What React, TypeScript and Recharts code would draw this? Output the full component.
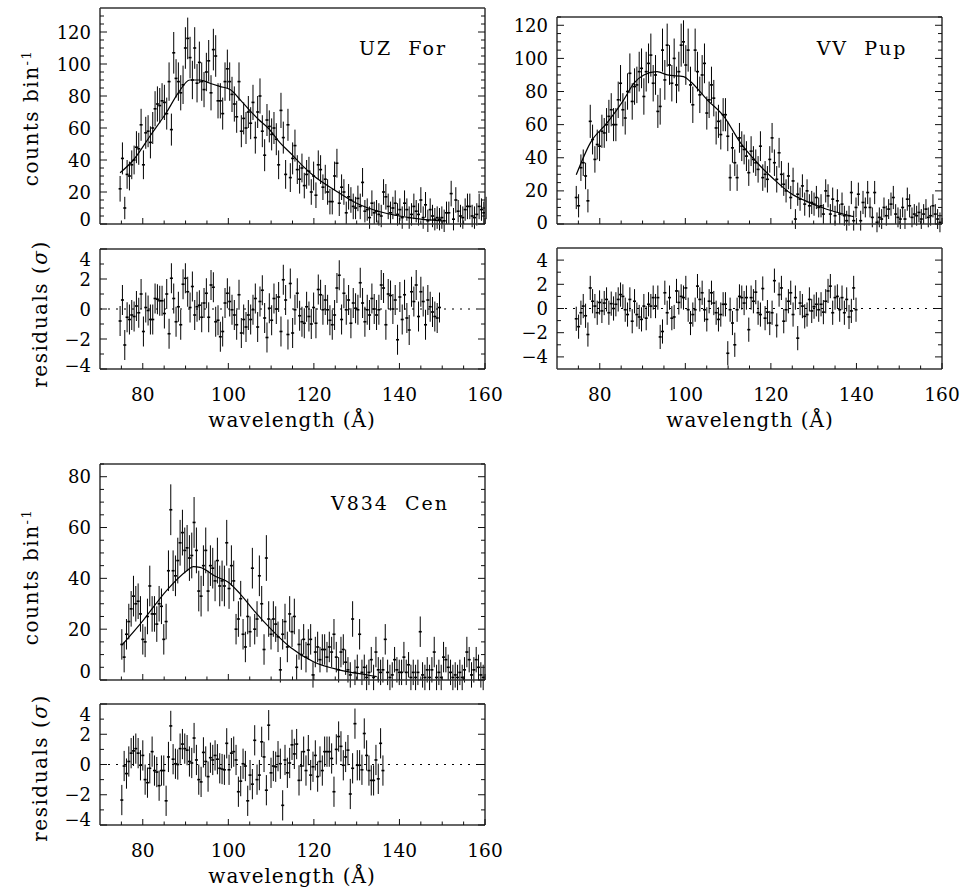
import React from "react";
import { ComposedChart, Scatter, Line, XAxis, YAxis, ErrorBar, ReferenceLine } from "recharts";

// bin width of the spectra (Å)
const BIN = 0.545;

// ---- UZ For ----
const UZ_START = 74.7;
const UZ_COUNTS = [
  22, 41, 10, 31, 30, 37, 40, 48, 47, 62, 37, 57, 58, 51, 60, 72, 75, 74, 77, 76,
  69, 89, 59, 107, 91, 89, 82, 87, 110, 116, 104, 90, 110, 88, 101, 89, 84, 95, 102, 82,
  109, 105, 77, 77, 69, 89, 97, 89,
  81, 75, 67, 89, 58, 66, 60, 70, 63, 76, 54, 70, 80, 58, 43, 65, 61, 56, 60, 53,
  37, 71, 54, 31, 62, 29, 41, 49, 34, 28, 35, 24, 31, 33, 20, 30, 18, 37, 34, 23,
  28, 20, 14, 14, 30, 38, 13, 23, 20, 7, 17, 15, 11,
  10, 16, 11, 26, 8, 9, 4, 13, 7, 8, 6, 5, 20, 17, 11, 7, 10, 13, 6, 9,
  4, 13, 9, 4, 6, 11, 8, 6, 15, 4, 12, 2, 9, 5, 3, 4, 3, 4, 2, 7,
  7, 19, 3, 15, 8, 5, 4, 9, 11, 11, 5, 4, 6, 11, 9, 7, 10,
];
const UZ_ERR = [
  8, 10, 7, 9, 9, 9, 9, 10, 10, 10, 9, 10, 10, 10, 10, 11, 11, 11, 11, 11,
  10, 12, 10, 13, 12, 12, 11, 12, 13, 13, 13, 12, 13, 12, 13, 12, 11, 12, 13, 11,
  13, 13, 11, 11, 10, 12, 12, 12,
  11, 11, 10, 12, 10, 10, 10, 10, 10, 11, 10, 10, 11, 10, 10, 10, 10, 10, 10, 10,
  9, 11, 10, 9, 10, 9, 10, 10, 9, 9, 9, 8, 9, 9, 8, 9, 8, 9, 9, 8,
  9, 8, 8, 8, 9, 9, 8, 8, 8, 7, 8, 8, 8,
  7, 8, 8, 9, 7, 7, 7, 8, 7, 7, 7, 7, 8, 8, 8, 7, 7, 8, 7, 7,
  7, 8, 7, 7, 7, 8, 7, 7, 8, 7, 8, 7, 7, 7, 7, 7, 7, 7, 7, 7,
  7, 8, 7, 8, 7, 7, 7, 7, 8, 8, 7, 7, 7, 8, 7, 7, 7,
];
const UZ_RESID = [
  -0.8, 0.6, -2.4, -0.55, -0.7, -0.4, -0.5, 0.2, -0.25, 1.0, -1.5, 0.1, -0.1, -0.7, -0.7, 0.7, 0.65, 0.55, 0.55, -0.3,
  1.0, -1.65, 2.05, 0.7, -0.85, 0.15, -1.05, 1.65, 2.05, 1.15, 0.1, 1.5, -0.4, 0.15, 0.25, -0.55, 0.4, 1.05, -0.55, 1.6,
  1.45, -0.85, -0.75, -1.85, -1.5, 0.4, 1.05, 0.5, -0.05, -0.4, -1.05, 0.95, -1.6, -0.7, -1.2, -0.4, -0.7, -0.05, 0.7, -1.2,
  0.5, 1.25, -0.6, -1.9, 0.05, -0.75, 0.7, 0, 0.8, -1.5, 1.95, 0.6, -1.7, 1.7, -1.6, -0.05, 1.05, -0.45, -0.85, -0.95,
  0.15, -0.5, -1.0, 0.1, -0.95, 1.3, 0.95, -0.05, 0.6, -0.05, -0.75, -1.05, -0.4, 1.4, 2.25, -0.7, 1.05, -0.05, 0.6, -0.95,
  0.4, 0.05, -0.05, 1.75, 0.4, -0.85, -0.05, -0.4, 0.7, 0, -0.4, -0.05, 1.6, 1.4, -1.05, 1.0, 0.9, 0, 0.6, -2.05,
  0.8, -0.7, 0.95, -0.6, -1.4, 1.15, 0.5, 1.6, -0.5, 1.15, 0.5, -1.05, 0.6, 0.15, -0.2, -0.5, -0.6, 0.1,
];
const UZ_MODEL_X = [74.7, 77.8, 81.7, 85.6, 88.3, 91, 93.4, 95.7, 98, 100.4, 103, 105, 107, 109.3, 112, 115, 117.5, 120, 125, 130, 135, 140, 145, 150];
const UZ_MODEL_Y = [32, 40, 55, 70, 82, 90, 90, 88, 86, 84, 77, 71, 65.5, 60, 51, 43, 36, 30, 21, 13, 8, 5, 3, 2];

// ---- VV Pup ----
const VV_START = 74.5;
const VV_COUNTS = [
  16, 11, 34, 37, 29, 14, 62, 51, 39, 48, 47, 56, 55, 60, 65, 69, 60, 60, 75, 85,
  69, 64, 80, 91, 74, 83, 84, 92, 94, 77, 92, 97, 102, 85, 90, 68, 71, 105, 87, 108,
  96, 85, 100, 84, 92, 108, 110, 96, 105, 84, 72, 105, 92, 78, 90, 97, 67, 75, 84, 76,
  58, 62, 54, 66, 66, 53, 28, 46, 37, 28, 52, 47, 45, 41, 31, 44, 39, 37, 33, 47,
  28, 30, 27, 39, 52, 37, 27, 43, 30, 24, 20, 29, 16, 26, 3, 18, 15, 23, 12, 20,
  11, 13, 12, 16, 10, 11, 6, 20, 17, 6, 15, 5, 14, 6, 12, 5, 2, 5, 19, 2,
  10, 18, 2, 13, 10, 19, 10, 4, 19, 1, 4, 3, 10, 5, 9, 12, 16, 6, 4, 3,
  10, 3, 15, 11, 4, 6, 5, 7, 3, 6, 9, 4, 5, 11, 6, 3, 1,
];
const VV_ERR = [
  7, 7, 8, 8, 8, 7, 10, 9, 8, 9, 9, 10, 9, 10, 10, 10, 10, 10, 11, 11,
  10, 10, 11, 12, 11, 11, 11, 12, 12, 11, 12, 12, 13, 11, 12, 10, 11, 13, 12, 13,
  12, 11, 12, 11, 12, 13, 13, 12, 13, 11, 11, 13, 12, 11, 12, 12, 10, 11, 11, 11,
  10, 10, 9, 10, 10, 9, 8, 9, 8, 8, 9, 9, 9, 9, 8, 9, 8, 8, 8, 9,
  8, 8, 8, 8, 9, 8, 8, 9, 8, 7, 7, 8, 7, 8, 6, 7, 7, 7, 7, 7,
  7, 7, 7, 7, 6, 7, 6, 7, 7, 6, 7, 6, 7, 6, 7, 6, 6, 6, 7, 6,
  6, 7, 6, 7, 6, 7, 6, 6, 7, 6, 6, 6, 6, 6, 6, 7, 7, 6, 6, 6,
  6, 6, 7, 7, 6, 6, 6, 6, 6, 6, 6, 6, 6, 7, 6, 6, 6,
];
const VV_RESID = [
  -0.85, -1.5, -0.35, 0.2, -0.6, -2.15, 1.7, 0.6, 0.2, -0.35, 0.5, -0.2, 0.45, 0.75, -0.35, 0.4, 0, 0.35, 0.75, 1.15,
  1.0, -0.1, -0.5, 0.75, -1.05, 0.6, -0.5, -0.7, -0.9, 0.2, -0.8, 0.35, 0.2, 0.9, 0.2, 0.9, -2.35, -1.9, 1.3, -0.35,
  0.9, -0.8, -0.7, 1.45, 0.5, 1.0, 0.9, 1.7, -0.1, -1.2, -0.5, -0.1, 1.85, 0.75, 1.3, -0.1, -0.9, 0.6, 1.3, 0.45,
  -0.35, -0.9, -0.5, 0.35, 0.35, -3.7, -0.1, -1.2, -3.0, -0.1, 1.0, 0.9, 0.45, 0.9, -1.75, 0.9, 0.6, 1.35, -0.35, -0.5,
  1.65, -0.8, -0.3, -1.2, -0.35, 2.3, -1.4, 1.15, 1.7, -1.05, -0.1, 0.6, 1.3, -0.5, 0.9, -2.45, 0.45, 0.2, -0.65, -0.5,
  0.75, -0.2, 0.15, 0.35, -0.1, 0.35, -0.3, 0.6, 1.45, 1.85, -0.35, 0.9, 1.0, -0.1, 0.9, -0.35, 0.75, -0.7, -0.2, 1.7,
  -0.1,
];
const VV_MODEL_X = [74.5, 77.8, 81.7, 85.6, 88, 90.3, 93.4, 95.8, 99.6, 101.2, 105.1, 109, 112.9, 116.8, 120.7, 124.6, 128.5, 132.4, 136.3, 139.4];
const VV_MODEL_Y = [29.7, 49, 61, 75, 85, 90, 92, 90, 89, 86, 75, 65, 49, 37, 27, 18.6, 13.5, 9.5, 6.5, 4.4];

// ---- V834 Cen ----
const CEN_START = 75.1;
const CEN_COUNTS = [
  14, 9, 18, 23, 28, 33, 30, 31, 26, 16, 15, 25, 37, 26, 26, 22, 30, 29, 16, 23,
  43, 67, 43, 41, 47, 54, 58, 51, 52, 48, 49, 62, 51, 35, 33, 45, 51, 35, 45, 44,
  39, 47, 37, 39, 37, 54, 36, 45, 39, 20, 24, 32, 18, 13, 25, 19, 44, 20, 24, 41,
  30, 12, 48, 24, 18, 24, 22, 17, 4, 18, 23, 13, 26, 19, 25, 5, 14, 10, 16, 9,
  14, 16, 2, 11, 13, 8, 12, 12, 9, 13, 11, 18, 9, 4, 11, 12, 7, 4, 2, 24,
  3, 5, 18, 3, 5, 1, 3, 8, 1, 11, 4, 3, 4, 16, 3, 1, 2, 8, 4, 3,
  3, 9, 3, 6, 1, 3, 1, 3, 19, 2, 1, 4, 1, 4, 11, 1, 3, 1, 9, 8,
  5, 3, 1, 2, 1, 3, 1, 4, 11, 8, 2, 4, 8, 5, 2, 1,
];
const CEN_ERR = [
  6, 6, 6, 7, 7, 8, 7, 7, 7, 6, 6, 7, 8, 7, 7, 7, 7, 7, 6, 7,
  8, 10, 8, 8, 9, 9, 9, 9, 9, 9, 9, 10, 9, 8, 8, 8, 9, 8, 8, 8,
  8, 9, 8, 8, 8, 9, 8, 8, 8, 6, 7, 7, 6, 6, 7, 6, 8, 6, 7, 8,
  7, 6, 9, 7, 6, 7, 7, 6, 5, 6, 7, 6, 7, 6, 7, 5, 6, 6, 6, 6,
  6, 6, 5, 6, 6, 5, 6, 6, 6, 6, 6, 6, 6, 5, 6, 6, 5, 5, 5, 7,
  5, 5, 6, 5, 5, 5, 5, 5, 5, 6, 5, 5, 5, 6, 5, 5, 5, 5, 5, 5,
  5, 6, 5, 5, 5, 5, 5, 5, 6, 5, 5, 5, 5, 5, 6, 5, 5, 5, 6, 5,
  5, 5, 5, 5, 5, 5, 5, 5, 6, 5, 5, 5, 5, 5, 5, 5,
];
const CEN_RESID = [
  -2.35, -0.1, -0.6, 0.2, 0.75, 0.9, 1.05, 0.75, -0.05, 0.6, -1.0, -1.2, -0.25, 0.85, -0.4, -0.5, -1.4, -0.4, -0.4, -2.4,
  0.5, 2.55, 0.35, 0.05, 0, 1.05, 1.35, 1.05, 0.95, 0.2, 0.1, 1.75, 0.3, -1.0, -1.15, 0.8, 0.2, -0.8, 0.45, 0.3,
  0.6, 0.35, -0.25, -0.3, -0.35, 1.4, -0.35, 0.75, 0.85, 0.3, -1.8, -1.1, 0.05, -0.1, -2.4, -0.7, -1.3, 1.6, -1.0, -0.7,
  1.5, 0.5, -1.7, 2.6, -0.55, -0.1, -0.15, 0.55, 0.05, -2.7, 0.3, -0.55, 0.1, 1.3, 0.7, 1.35, -1.05, -0.1, 0.85, -0.4,
  0.95, -0.7, -0.15, 0.6, -0.8, 0.2, -0.4, 0.85, 0.85, 0.85, 0.4, -1.8, 1.0, 1.85, 1.2, -0.05, 0.5, 0.95, -1.95, -0.25,
  2.7, -0.05, -0.05, -0.35, 2.05, 0.6, -0.4, -1.05, -1.05, 0.3, -0.95, 1.4, -0.4,
];
const CEN_MODEL_X = [75.1, 80.1, 85.6, 90.3, 91.8, 93.4, 97.3, 100, 102.7, 105.9, 109.8, 114.4, 119.9, 126.1, 132.4, 134.7];
const CEN_MODEL_Y = [13.7, 23.5, 35.3, 43, 44.6, 44.3, 40.5, 38.5, 34, 27.5, 20.3, 13, 7.2, 3.9, 2, 1.3];

// residual error bars are one sigma by definition
const SIGMA = 1;

// ticks
const X_MAJOR = [80, 100, 120, 140, 160];
const X_MINOR = [75, 85, 90, 95, 105, 110, 115, 125, 130, 135, 145, 150, 155];
const COUNT_MAJOR = [0, 20, 40, 60, 80, 100, 120];
const COUNT_MINOR = [5, 10, 15, 25, 30, 35, 45, 50, 55, 65, 70, 75, 85, 90, 95, 105, 110, 115, 125, 130];
const RESID_MAJOR = [-4, -2, 0, 2, 4];
const RESID_MINOR = [-3, -1, 1, 3];

const FONT = '"DejaVu Serif", "Liberation Serif", serif';
const INK = "#111";

const spectrum = (start: number, ys: number[], errs: number[]) =>
  ys.map((y, i) => ({ x: +(start + i * BIN).toFixed(3), y, e: errs[i] ?? 0 }));
const resid = (start: number, ys: number[]) =>
  ys.map((y, i) => ({ x: +(start + i * BIN).toFixed(3), y, e: SIGMA }));
const curve = (xs: number[], ys: number[]) => xs.map((x, i) => ({ x, y: ys[i] }));

const Mark = (p: any) =>
  p.cx == null ? <g /> : <rect x={p.cx - 1.5} y={p.cy - 0.8} width={3} height={1.6} fill="#000" />;

type Box = { x0: number; y0: number; x1: number; y1: number };

interface PanelProps {
  box: Box;
  yDomain: [number, number];
  yMajor: number[];
  yMinor: number[];
  nudge?: Record<string, number>;
  points: { x: number; y: number; e: number }[];
  model?: { x: number; y: number }[];
  zero?: boolean;
  xLabels?: boolean;
}

function Panel({ box, yDomain, yMajor, yMinor, nudge = {}, points, model, zero, xLabels }: PanelProps) {
  const w = box.x1 - box.x0 + 130;
  const h = box.y1 - box.y0 + 75;
  const xTicks = [...X_MAJOR, ...X_MINOR].sort((a, b) => a - b);
  const yTicks = [...yMajor, ...yMinor]
    .filter((v) => v >= yDomain[0] && v <= yDomain[1])
    .sort((a, b) => a - b);

  const bottomTick = (p: any) => {
    const v = p.payload.value;
    const major = X_MAJOR.includes(v);
    return (
      <g>
        <line x1={p.x} x2={p.x} y1={p.y} y2={p.y - (major ? 6 : 3.5)} stroke={INK} />
        {xLabels && major && (
          <text x={p.x} y={p.y + 32} textAnchor="middle" fontSize={18.5} fontFamily={FONT} fill="#000">
            {v}
          </text>
        )}
      </g>
    );
  };
  const topTick = (p: any) => {
    const major = X_MAJOR.includes(p.payload.value);
    return <line x1={p.x} x2={p.x} y1={p.y} y2={p.y + (major ? 6 : 3.5)} stroke={INK} />;
  };
  const leftTick = (p: any) => {
    const v = p.payload.value;
    const major = yMajor.includes(v);
    return (
      <g>
        <line x1={p.x} x2={p.x + (major ? 7 : 4)} y1={p.y} y2={p.y} stroke={INK} />
        {major && (
          <text x={p.x - 9} y={p.y + 6.5 + (nudge[String(v)] ?? 0)} textAnchor="end" fontSize={18} fontFamily={FONT} fill="#000">
            {v < 0 ? "\u2212" + Math.abs(v) : v}
          </text>
        )}
      </g>
    );
  };
  const rightTick = (p: any) => {
    const major = yMajor.includes(p.payload.value);
    return <line x1={p.x} x2={p.x - (major ? 7 : 4)} y1={p.y} y2={p.y} stroke={INK} />;
  };
  const axisLine = { stroke: "#333", strokeWidth: 1.5 };

  return (
    <div style={{ position: "absolute", left: box.x0 - 100, top: box.y0 - 30, width: w, height: h }}>
      <ComposedChart width={w} height={h} margin={{ top: 20, right: 20, bottom: 35, left: 90 }}>
        <XAxis xAxisId="b" type="number" dataKey="x" domain={[70, 160]} ticks={xTicks} interval={0}
          allowDataOverflow height={10} tickSize={0} tickMargin={0} tickLine={false} axisLine={axisLine} tick={bottomTick} />
        <XAxis xAxisId="t" orientation="top" type="number" domain={[70, 160]} ticks={xTicks} interval={0}
          allowDataOverflow height={10} tickSize={0} tickMargin={0} tickLine={false} axisLine={axisLine} tick={topTick} />
        <YAxis yAxisId="l" type="number" dataKey="y" domain={yDomain} ticks={yTicks} interval={0}
          allowDataOverflow width={10} tickSize={0} tickMargin={0} tickLine={false} axisLine={axisLine} tick={leftTick} />
        <YAxis yAxisId="r" orientation="right" type="number" domain={yDomain} ticks={yTicks} interval={0}
          allowDataOverflow width={10} tickSize={0} tickMargin={0} tickLine={false} axisLine={axisLine} tick={rightTick} />
        {zero && (
          <ReferenceLine xAxisId="b" yAxisId="l" y={0} stroke="#000" strokeWidth={1} strokeDasharray="2 6" />
        )}
        <Scatter xAxisId="b" yAxisId="l" data={points} shape={Mark} isAnimationActive={false}>
          <ErrorBar dataKey="e" direction="y" width={0} stroke="#000" strokeWidth={1} isAnimationActive={false} />
        </Scatter>
        {model && (
          <Line xAxisId="b" yAxisId="l" data={model} dataKey="y" type="monotone" dot={false}
            stroke="#000" strokeWidth={1.2} isAnimationActive={false} />
        )}
      </ComposedChart>
    </div>
  );
}

const rotLabel = (cx: number, cy: number): React.CSSProperties => ({
  position: "absolute",
  left: cx,
  top: cy,
  transform: "translate(-50%, -50%) rotate(-90deg)",
  whiteSpace: "nowrap",
  fontSize: 20,
  letterSpacing: 1.5,
  lineHeight: "22px",
});
const title = (cx: number, top: number): React.CSSProperties => ({
  position: "absolute",
  left: cx,
  top,
  transform: "translateX(-50%)",
  whiteSpace: "pre",
  fontSize: 19,
  letterSpacing: 2,
  lineHeight: "20px",
});
const xTitle = (cx: number, top: number): React.CSSProperties => ({
  position: "absolute",
  left: cx,
  top,
  transform: "translateX(-50%)",
  whiteSpace: "nowrap",
  fontSize: 20,
  letterSpacing: 1,
  lineHeight: "20px",
});

export default function App() {
  return (
    <div style={{ position: "absolute", left: 0, top: 0, width: 965, height: 890, overflow: "hidden", background: "#fff", fontFamily: FONT, color: "#000" }}>
      <Panel box={{ x0: 100, y0: 8, x1: 485, y1: 224 }} yDomain={[0, 135]} yMajor={COUNT_MAJOR} yMinor={COUNT_MINOR}
        nudge={{ "0": -5 }} points={spectrum(UZ_START, UZ_COUNTS, UZ_ERR)} model={curve(UZ_MODEL_X, UZ_MODEL_Y)} />
      <Panel box={{ x0: 100, y0: 249, x1: 485, y1: 369 }} yDomain={[-4, 4]} yMajor={RESID_MAJOR} yMinor={RESID_MINOR}
        nudge={{ "4": 10, "-4": -4 }} points={resid(UZ_START, UZ_RESID)} zero xLabels />

      <Panel box={{ x0: 557, y0: 17, x1: 942, y1: 224 }} yDomain={[0, 125]} yMajor={COUNT_MAJOR} yMinor={COUNT_MINOR}
        nudge={{ "0": -2 }} points={spectrum(VV_START, VV_COUNTS, VV_ERR)} model={curve(VV_MODEL_X, VV_MODEL_Y)} />
      <Panel box={{ x0: 557, y0: 248, x1: 942, y1: 369 }} yDomain={[-5, 5]} yMajor={RESID_MAJOR} yMinor={RESID_MINOR}
        points={resid(VV_START, VV_RESID)} zero xLabels />

      <Panel box={{ x0: 100, y0: 464, x1: 485, y1: 680 }} yDomain={[0, 85]} yMajor={COUNT_MAJOR} yMinor={COUNT_MINOR}
        nudge={{ "0": -9 }} points={spectrum(CEN_START, CEN_COUNTS, CEN_ERR)} model={curve(CEN_MODEL_X, CEN_MODEL_Y)} />
      <Panel box={{ x0: 100, y0: 704, x1: 485, y1: 825 }} yDomain={[-4, 4]} yMajor={RESID_MAJOR} yMinor={RESID_MINOR}
        nudge={{ "4": 10, "-4": -6 }} points={resid(CEN_START, CEN_RESID)} zero xLabels />

      <div style={rotLabel(29, 118)}>counts bin<sup style={{ fontSize: 13 }}>-1</sup></div>
      <div style={rotLabel(40, 314)}>residuals (<i>σ</i>)</div>
      <div style={rotLabel(29, 577)}>counts bin<sup style={{ fontSize: 13 }}>-1</sup></div>
      <div style={rotLabel(40, 768)}>residuals (<i>σ</i>)</div>

      <div style={xTitle(292, 410)}>wavelength (Å)</div>
      <div style={xTitle(750, 410)}>wavelength (Å)</div>
      <div style={xTitle(292, 866)}>wavelength (Å)</div>

      <div style={title(403, 38)}>{"UZ  For"}</div>
      <div style={title(862, 38)}>{"VV  Pup"}</div>
      <div style={title(390, 493)}>{"V834  Cen"}</div>
    </div>
  );
}
